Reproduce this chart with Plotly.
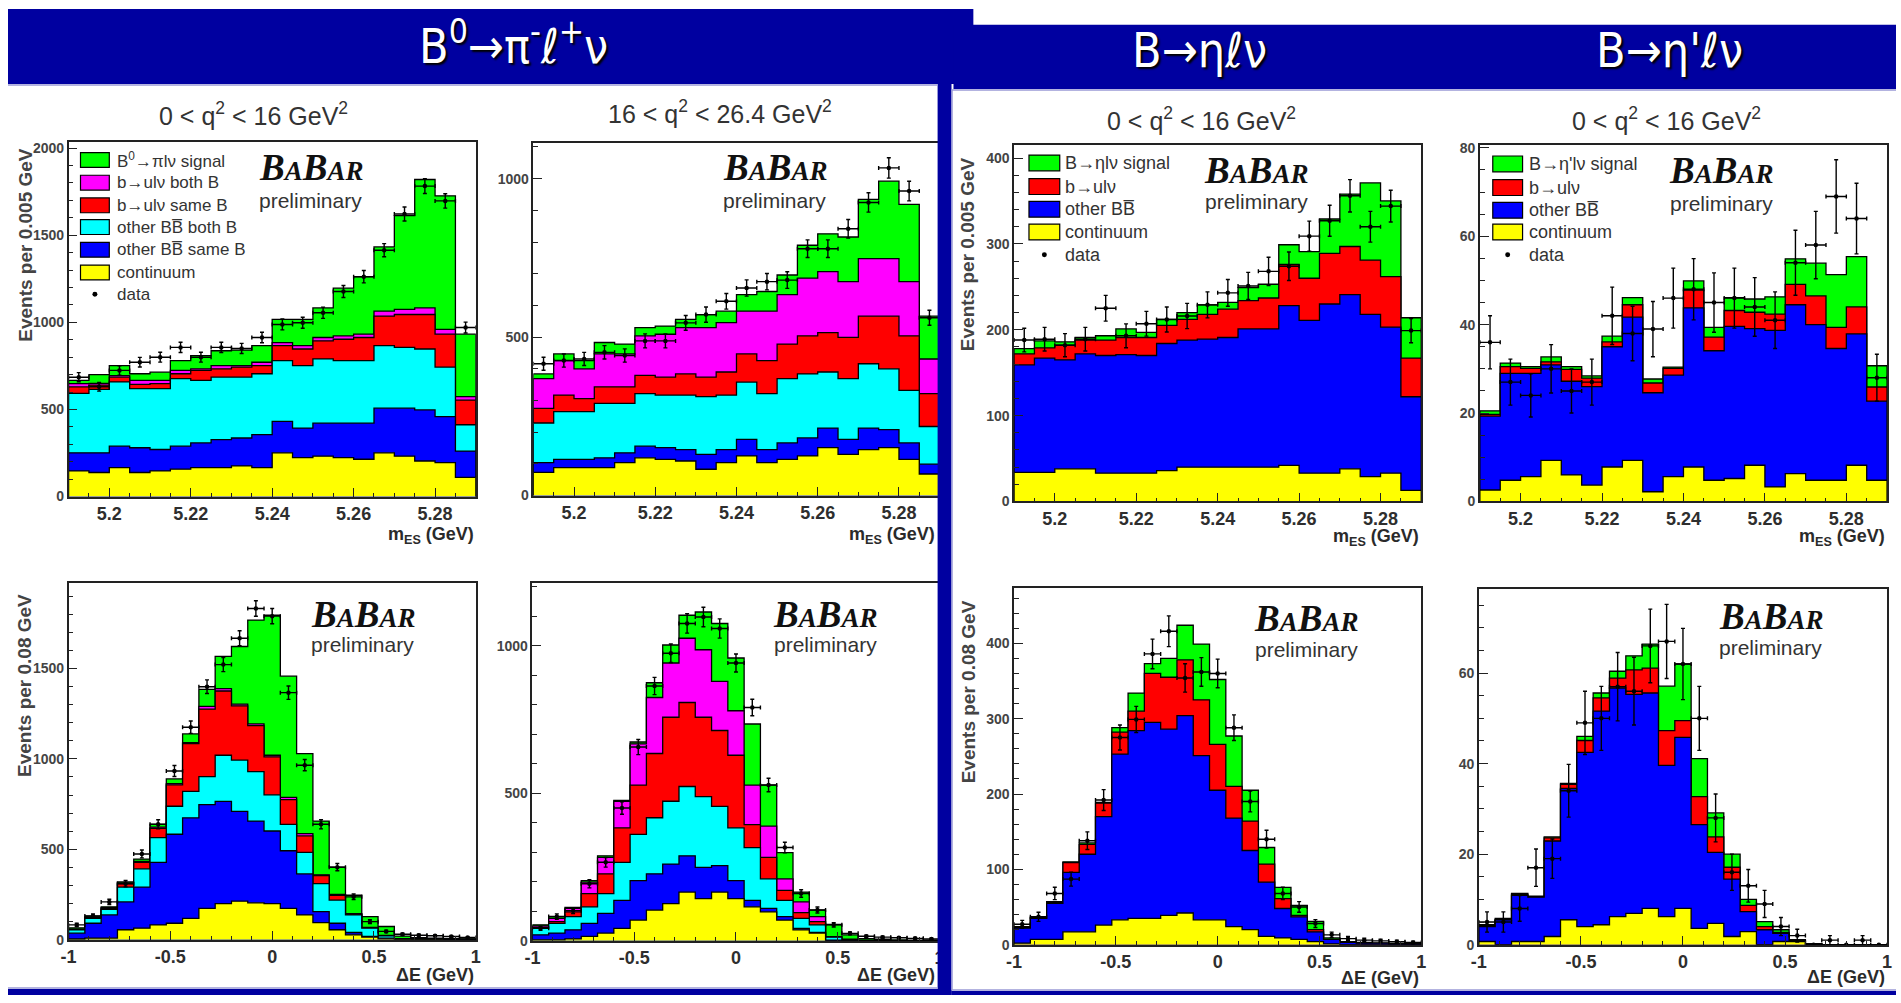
import numpy as np
import plotly.graph_objects as go

W, H = 1901, 1003

# ---------------- binning and tick labels ----------------
mes_range = (5.19, 5.29)
mes_nbins = 20
de_range = (-1.0, 1.0)
de_nbins = 25

mes_tickvals = [5.2, 5.22, 5.24, 5.26, 5.28]
mes_ticktext = ["5.2", "5.22", "5.24", "5.26", "5.28"]
de_tickvals = [-1, -0.5, 0, 0.5, 1]
de_ticktext = ["-1", "-0.5", "0", "0.5", "1"]

# ---------------- B0 -> pi l nu, 0 < q2 < 16, mES ----------------
pi_lo_mes_continuum = [147, 138, 166, 138, 147, 157, 166, 166, 176, 166, 251, 223, 232, 223, 214, 251, 232, 204, 195, 110]
pi_lo_mes_bb_same = [104, 113, 123, 142, 123, 132, 142, 161, 160, 189, 180, 170, 189, 198, 207, 256, 275, 293, 264, 151]
pi_lo_mes_bb_both = [341, 364, 369, 340, 350, 388, 359, 359, 350, 350, 349, 359, 369, 359, 359, 359, 349, 350, 284, 151]
pi_lo_mes_ulv_same = [37, 25, 27, 24, 28, 28, 57, 47, 57, 47, 86, 95, 104, 123, 133, 170, 189, 198, 189, 142]
pi_lo_mes_ulv_both = [19, 10, 9, 23, 19, 19, 9, 19, 9, 19, 18, 19, 19, 19, 19, 28, 29, 38, 28, 19]
pi_lo_mes_signal = [19, 50, 57, 38, 47, 56, 76, 85, 89, 95, 133, 151, 170, 274, 330, 369, 538, 737, 766, 359]
pi_lo_mes_data = [685, 630, 724, 771, 800, 856, 800, 856, 850, 913, 988, 998, 1055, 1177, 1262, 1414, 1622, 1782, 1697, 970]

# ---------------- B0 -> pi l nu, 16 < q2 < 26.4, mES ----------------
pi_hi_mes_continuum = [73, 88, 88, 88, 104, 119, 114, 109, 83, 104, 125, 104, 114, 125, 151, 130, 145, 151, 114, 68]
pi_hi_mes_bb_same = [31, 26, 26, 31, 31, 37, 37, 36, 47, 41, 52, 41, 52, 57, 62, 47, 68, 57, 52, 31]
pi_hi_mes_bb_both = [125, 151, 151, 172, 156, 166, 166, 172, 182, 172, 181, 177, 203, 202, 177, 192, 203, 192, 166, 119]
pi_hi_mes_ulv_same = [46, 52, 41, 52, 52, 57, 57, 67, 62, 73, 89, 104, 109, 120, 124, 130, 150, 166, 172, 104]
pi_hi_mes_ulv_both = [94, 109, 94, 104, 104, 125, 135, 146, 156, 156, 135, 156, 156, 182, 193, 176, 182, 182, 171, 109]
pi_hi_mes_signal = [15, 21, 26, 36, 31, 26, 26, 26, 41, 36, 52, 62, 62, 104, 119, 141, 187, 244, 244, 135]
pi_hi_mes_data = [416, 426, 431, 452, 442, 488, 488, 545, 571, 613, 655, 675, 680, 779, 779, 842, 925, 1034, 961, 561]

# ---------------- B -> eta l nu, mES ----------------
eta_mes_continuum = [34, 34, 38, 38, 33, 33, 33, 36, 40, 40, 40, 40, 40, 42, 33, 33, 38, 29, 33, 13]
eta_mes_other_bb = [125, 133, 127, 134, 137, 138, 137, 148, 148, 149, 151, 161, 161, 186, 178, 197, 203, 189, 170, 109]
eta_mes_ulv = [13, 12, 17, 16, 18, 20, 21, 21, 24, 29, 33, 33, 36, 48, 49, 59, 56, 63, 59, 45]
eta_mes_signal = [6, 8, 4, 3, 5, 10, 6, 7, 8, 11, 8, 15, 16, 23, 31, 40, 61, 90, 88, 47]
eta_mes_data = [188, 189, 182, 189, 225, 193, 207, 212, 216, 229, 243, 251, 268, 274, 309, 327, 356, 320, 344, 199]

# ---------------- B -> eta' l nu, mES ----------------
etap_mes_continuum = [2.6, 4.8, 5.6, 9.3, 6.0, 3.7, 7.8, 9.3, 2.2, 5.6, 7.8, 4.8, 5.2, 8.2, 3.3, 6.3, 4.8, 4.8, 8.2, 4.8]
etap_mes_other_bb = [16.7, 24.2, 23.4, 21.6, 21.2, 22.3, 27.2, 32.4, 22.4, 23.0, 36.0, 29.3, 34.4, 30.9, 35.4, 38.2, 35.2, 29.8, 29.7, 17.9]
etap_mes_ulv = [0.4, 1.5, 1.1, 0.7, 2.7, 1.9, 1.1, 2.8, 2.2, 1.5, 4.0, 3.1, 3.6, 3.7, 3.7, 4.6, 6.5, 4.8, 6.1, 3.2]
etap_mes_signal = [0.8, 0.8, 0.4, 1.1, 0.6, 0.5, 1.3, 1.6, 0.9, 0.3, 2.1, 2.2, 2.9, 3.0, 3.9, 5.8, 7.4, 11.9, 11.4, 4.8]
etap_mes_data = [36, 27, 24, 30, 25, 27, 42, 38, 39, 46, 48, 45, 46, 44, 41, 54, 58, 69, 64, 28]

# ---------------- B0 -> pi l nu, 0 < q2 < 16, Delta E ----------------
pi_lo_de_continuum = [4, 9, 9, 55, 64, 82, 91, 118, 173, 200, 213, 204, 200, 173, 137, 95, 55, 27, 15, 5, 2, 1, 1, 0, 0]
pi_lo_de_bb_same = [32, 82, 128, 154, 227, 346, 492, 556, 574, 565, 497, 452, 401, 319, 227, 60, 36, 13, 3, 4, 1, 1, 0, 1, 1]
pi_lo_de_bb_both = [19, 27, 31, 82, 101, 137, 155, 146, 155, 255, 283, 273, 200, 146, 119, 155, 128, 97, 46, 13, 3, 2, 2, 1, 1]
pi_lo_de_ulv_same = [2, 4, 5, 18, 36, 51, 118, 264, 373, 355, 300, 255, 210, 136, 91, 45, 27, 5, 3, 1, 0, 0, 0, 0, 0]
pi_lo_de_ulv_both = [1, 2, 4, 4, 5, 7, 7, 6, 15, 13, 9, 9, 9, 13, 13, 4, 4, 2, 1, 1, 0, 0, 0, 0, 0]
pi_lo_de_signal = [8, 7, 5, 6, 13, 15, 26, 48, 94, 178, 319, 574, 774, 670, 442, 297, 151, 102, 60, 49, 14, 8, 5, 4, 3]
pi_lo_de_data = [82, 131, 209, 310, 474, 638, 933, 1175, 1399, 1521, 1667, 1831, 1789, 1366, 965, 638, 401, 237, 100, 46, 30, 25, 22, 18, 12]

# ---------------- B0 -> pi l nu, 16 < q2 < 26.4, Delta E ----------------
pi_hi_de_continuum = [3, 3, 6, 15, 26, 42, 70, 104, 126, 165, 143, 165, 143, 115, 98, 70, 37, 26, 0, 0, 0, 0, 0, 0, 0]
pi_hi_de_bb_same = [17, 23, 31, 44, 67, 95, 134, 123, 134, 123, 106, 90, 61, 22, 12, 12, 5, 2, 2, 1, 0, 0, 0, 0, 0]
pi_hi_de_bb_both = [22, 33, 45, 56, 67, 129, 157, 190, 213, 235, 240, 201, 179, 179, 100, 55, 34, 26, 10, 3, 1, 1, 0, 0, 0]
pi_hi_de_ulv_same = [3, 6, 16, 45, 67, 117, 167, 218, 285, 285, 269, 257, 246, 78, 73, 34, 19, 11, 1, 0, 0, 0, 0, 0, 0]
pi_hi_de_ulv_both = [5, 11, 12, 39, 56, 90, 140, 190, 184, 218, 229, 167, 151, 134, 106, 39, 37, 17, 1, 1, 0, 0, 0, 0, 0]
pi_hi_de_signal = [4, 6, 3, 5, 5, 3, 6, 50, 61, 78, 128, 196, 179, 207, 139, 89, 33, 22, 41, 15, 6, 4, 3, 2, 2]
pi_hi_de_data = [42, 82, 102, 193, 266, 450, 657, 864, 975, 1076, 1098, 1059, 942, 791, 528, 316, 160, 104, 54, 25, 15, 12, 10, 8, 6]

# ---------------- B -> eta l nu, Delta E ----------------
eta_de_continuum = [2, 7, 7, 17, 17, 26, 33, 35, 35, 39, 42, 33, 33, 24, 20, 11, 9, 7, 4, 1, 0, 0, 0, 0, 0]
eta_de_other_bb = [20, 28, 48, 79, 103, 144, 220, 249, 260, 247, 262, 218, 172, 144, 105, 72, 39, 30, 13, 6, 3, 2, 2, 1, 1]
eta_de_ulv = [1, 1, 1, 13, 13, 18, 29, 26, 65, 69, 74, 74, 61, 42, 39, 24, 13, 2, 3, 0, 0, 0, 0, 0, 0]
eta_de_signal = [1, 1, 1, 1, 2, 1, 6, 24, 13, 25, 46, 74, 86, 67, 41, 22, 15, 13, 11, 2, 1, 1, 0, 1, 0]
eta_de_data = [27, 37, 68, 87, 138, 192, 275, 299, 386, 416, 354, 362, 360, 288, 190, 140, 68, 50, 28, 13, 8, 6, 5, 4, 3]

# ---------------- B -> eta' l nu, Delta E ----------------
etap_de_continuum = [0.7, 0, 0.7, 0.7, 1.8, 5.5, 4.0, 4.4, 6.2, 6.9, 8.0, 6.2, 8.0, 3.6, 4.7, 1.8, 2.9, 0, 0.7, 0.7, 0, 0, 0, 0, 0]
etap_de_other_bb = [3.3, 5.5, 10.2, 9.8, 21.1, 29.0, 38.5, 47.2, 50.5, 48.4, 47.6, 33.4, 37.8, 22.9, 15.7, 12.7, 4.4, 3.3, 1.8, 0.1, 0.1, 0, 0, 0, 0]
etap_de_ulv = [0.2, 0.1, 0.2, 0, 0.7, 0.9, 2.6, 2.9, 2.2, 5.4, 5.5, 7.7, 3.7, 6.2, 3.4, 2.6, 1.4, 0.7, 0.2, 0.1, 0, 0, 0, 0, 0]
etap_de_signal = [0.2, 0.2, 0.2, 0.2, 0.2, 0.2, 0.9, 1.1, 1.5, 3.1, 5.3, 9.8, 12.5, 8.4, 5.3, 2.9, 1.3, 1.1, 0.6, 0.2, 0.1, 0, 0, 0, 0]
etap_de_data = [5, 5, 8, 17, 19, 34, 49, 50, 57, 56, 66, 67, 62, 50, 28, 16, 13, 9, 4, 2, 0, 1, 0, 1, 0]

# ---------------- legend labels ----------------
pi_legend_labels = ["B<sup>0</sup>→πlν signal", "b→ulν both B", "b→ulν same B",
                    "other BB\u0305 both B", "other BB\u0305 same B", "continuum", "data"]
eta_legend_labels = ["B→ηlν signal", "b→ulν", "other BB\u0305", "continuum", "data"]
etap_legend_labels = ["B→η'lν signal", "b→ulν", "other BB\u0305", "continuum", "data"]

header_labels = ["B<sup>0</sup>→π<sup>-</sup>ℓ<sup>+</sup>ν", "B→ηℓν", "B→η'ℓν"]
q2_labels = ["0 &lt; q<sup>2</sup> &lt; 16 GeV<sup>2</sup>", "16 &lt; q<sup>2</sup> &lt; 26.4 GeV<sup>2</sup>",
             "0 &lt; q<sup>2</sup> &lt; 16 GeV<sup>2</sup>", "0 &lt; q<sup>2</sup> &lt; 16 GeV<sup>2</sup>"]

# ---------------- styling ----------------
GREEN, MAGENTA, RED = "#00ff00", "#ff00ff", "#ff0000"
CYAN, BLUE, YELLOW = "#00ffff", "#0000ff", "#ffff00"
NAVY = "#0000a0"
EDGE = "#9a9ad6"
INK = "#2e2e2e"
SANS = "Liberation Sans, Arial, Helvetica, sans-serif"
NARROW = "Liberation Sans Narrow, DejaVu Sans Condensed, Liberation Sans, Arial, sans-serif"
SERIF = "Liberation Serif, Times New Roman, serif"


def px(x):
    return x / W


def py(y):
    return 1 - y / H


def label(x, y, text, font, xanchor="center", yanchor="middle", **kw):
    """Paper-anchored text placed by pixel position."""
    return dict(x=px(x), y=py(y), xref="paper", yref="paper", showarrow=False,
                xanchor=xanchor, yanchor=yanchor, text=text, font=font, **kw)


panels = [
    dict(box=(61, 139, 471, 498), kind="mes", ymax=2034, yticks=[0, 500, 1000, 1500, 2000], yminor=100,
         comps=[(pi_lo_mes_continuum, YELLOW), (pi_lo_mes_bb_same, BLUE), (pi_lo_mes_bb_both, CYAN),
                (pi_lo_mes_ulv_same, RED), (pi_lo_mes_ulv_both, MAGENTA), (pi_lo_mes_signal, GREEN)],
         data=pi_lo_mes_data, logo=(305, 165, 197), xtitle=(471, 537)),
    dict(box=(529, 140, 938, 497), kind="mes", ymax=1112, yticks=[0, 500, 1000], yminor=100,
         comps=[(pi_hi_mes_continuum, YELLOW), (pi_hi_mes_bb_same, BLUE), (pi_hi_mes_bb_both, CYAN),
                (pi_hi_mes_ulv_same, RED), (pi_hi_mes_ulv_both, MAGENTA), (pi_hi_mes_signal, GREEN)],
         data=pi_hi_mes_data, logo=(772, 165, 197), xtitle=(935, 537)),
    dict(box=(1013, 142, 1423, 503), kind="mes", ymax=415, yticks=[0, 100, 200, 300, 400], yminor=20,
         comps=[(eta_mes_continuum, YELLOW), (eta_mes_other_bb, BLUE), (eta_mes_ulv, RED), (eta_mes_signal, GREEN)],
         data=eta_mes_data, logo=(1257, 168, 198), xtitle=(1423, 539)),
    dict(box=(1482, 142, 1892, 503), kind="mes", ymax=80.6, yticks=[0, 20, 40, 60, 80], yminor=5,
         comps=[(etap_mes_continuum, YELLOW), (etap_mes_other_bb, BLUE), (etap_mes_ulv, RED), (etap_mes_signal, GREEN)],
         data=etap_mes_data, logo=(1725, 168, 200), xtitle=(1892, 539)),
    dict(box=(61, 586, 471, 947), kind="de", ymax=1970, yticks=[0, 500, 1000, 1500], yminor=100,
         comps=[(pi_lo_de_continuum, YELLOW), (pi_lo_de_bb_same, BLUE), (pi_lo_de_bb_both, CYAN),
                (pi_lo_de_ulv_same, RED), (pi_lo_de_ulv_both, MAGENTA), (pi_lo_de_signal, GREEN)],
         data=pi_lo_de_data, logo=(357, 617, 647), xtitle=(471, 983)),
    dict(box=(528, 586, 938, 948), kind="de", ymax=1212, yticks=[0, 500, 1000], yminor=100,
         comps=[(pi_hi_de_continuum, YELLOW), (pi_hi_de_bb_same, BLUE), (pi_hi_de_bb_both, CYAN),
                (pi_hi_de_ulv_same, RED), (pi_hi_de_ulv_both, MAGENTA), (pi_hi_de_signal, GREEN)],
         data=pi_hi_de_data, logo=(823, 617, 647), xtitle=(935, 983)),
    dict(box=(1013, 591, 1423, 952), kind="de", ymax=473, yticks=[0, 100, 200, 300, 400], yminor=20,
         comps=[(eta_de_continuum, YELLOW), (eta_de_other_bb, BLUE), (eta_de_ulv, RED), (eta_de_signal, GREEN)],
         data=eta_de_data, logo=(1307, 622, 652), xtitle=(1423, 986)),
    dict(box=(1481, 592, 1892, 952), kind="de", ymax=78.5, yticks=[0, 20, 40, 60], yminor=5,
         comps=[(etap_de_continuum, YELLOW), (etap_de_other_bb, BLUE), (etap_de_ulv, RED), (etap_de_signal, GREEN)],
         data=etap_de_data, logo=(1775, 620, 650), xtitle=(1892, 985)),
]

fig = go.Figure()
layout_axes = {}
annotations = []
shapes = []


def step_xy(edges, vals):
    """Closed step outline of a histogram (ROOT style) for hv-shaped fills."""
    x = np.concatenate([[edges[0]], edges, [edges[-1]]])
    y = np.concatenate([[0.0], vals, [vals[-1], 0.0]])
    return x, y


for i, p in enumerate(panels, start=1):
    xname = "x" if i == 1 else f"x{i}"
    yname = "y" if i == 1 else f"y{i}"
    x0, y0, x1, y1 = p["box"]
    if p["kind"] == "mes":
        lo, hi = mes_range
        nb = mes_nbins
        tv, tt, xminor = mes_tickvals, mes_ticktext, 0.005
        xt = "m<sub>ES</sub> (GeV)"
    else:
        lo, hi = de_range
        nb = de_nbins
        tv, tt, xminor = de_tickvals, de_ticktext, 0.1
        xt = "ΔE (GeV)"
    edges = np.linspace(lo, hi, nb + 1)
    centers = 0.5 * (edges[:-1] + edges[1:])
    width = edges[1] - edges[0]

    comp_vals = np.array([c[0] for c in p["comps"]], dtype=float)
    cum = np.cumsum(comp_vals, axis=0)
    # draw the full stack first, then each lower cumulative layer on top of it
    for k in range(len(p["comps"]) - 1, -1, -1):
        sx, sy = step_xy(edges, cum[k])
        fig.add_trace(go.Scatter(
            x=sx, y=sy, mode="lines", line=dict(shape="hv", color="black", width=1.3),
            fill="tozeroy", fillcolor=p["comps"][k][1], hoverinfo="skip",
            xaxis=xname, yaxis=yname, showlegend=False))

    data = np.array(p["data"], dtype=float)
    fig.add_trace(go.Scatter(
        x=centers, y=data, mode="markers",
        marker=dict(color="black", size=4.5),
        error_y=dict(type="data", array=np.sqrt(data), color="black", thickness=1.4, width=2),
        error_x=dict(type="constant", value=width / 2, color="black", thickness=1.4, width=2),
        xaxis=xname, yaxis=yname, showlegend=False))

    axis_common = dict(showline=True, mirror=True, linecolor="#222", linewidth=1.5,
                       showgrid=False, zeroline=False, ticks="inside", tickcolor="#222",
                       tickwidth=1.2, fixedrange=True)
    layout_axes["xaxis" if i == 1 else f"xaxis{i}"] = dict(
        axis_common, domain=[px(x0), px(x1)], anchor=yname, range=[lo, hi],
        tickmode="array", tickvals=tv, ticktext=tt, ticklen=9,
        tickfont=dict(family=SANS, size=18, color=INK, weight="bold"),
        minor=dict(ticks="inside", ticklen=4, tickcolor="#222", tickmode="linear", tick0=lo, dtick=xminor))
    layout_axes["yaxis" if i == 1 else f"yaxis{i}"] = dict(
        axis_common, domain=[py(y1), py(y0)], anchor=xname, range=[0, p["ymax"]],
        tickmode="array", tickvals=p["yticks"], ticktext=[str(v) for v in p["yticks"]], ticklen=9,
        tickfont=dict(family=SANS, size=14, color="#444", weight="bold"),
        minor=dict(ticks="inside", ticklen=5, tickcolor="#222", tickmode="linear", tick0=0, dtick=p["yminor"]))

    # experiment logo
    lx, ly1, ly2 = p["logo"]
    annotations.append(label(
        lx, ly1,
        "<b><i>B<span style='font-size:27px'>A</span>B<span style='font-size:27px'>AR</span></i></b>",
        dict(family=SERIF, size=37, color="#111")))
    annotations.append(label(lx, ly2 + 1, "preliminary", dict(family=SANS, size=21, color="#333")))

    # x-axis title, right aligned under the frame
    tx, ty = p["xtitle"]
    annotations.append(label(tx, ty, xt, dict(family=SANS, size=18, color="#2a2a2a", weight="bold"),
                             xanchor="right"))

# y-axis titles
for (cx, cy, txt) in [(18, 243, "Events per 0.005 GeV"), (966, 252, "Events per 0.005 GeV"),
                      (16, 689, "Events per 0.08 GeV"), (968, 696, "Events per 0.08 GeV")]:
    annotations.append(label(cx, cy, txt, dict(family=SANS, size=19, color="#444", weight="bold"),
                             textangle=-90))

# q^2 range titles over the upper row
for (cx, cy), txt in zip([(247, 110), (717, 108), (1202, 115), (1670, 115)], q2_labels):
    annotations.append(label(cx, cy, txt, dict(family=SANS, size=25, color="#333")))


# ---------------- legends ----------------
def add_legend(labels, colors, box_x, rows_y, data_y, text_x, fsize, box_h):
    for lab, col, ry in zip(labels[:-1], colors, rows_y):
        shapes.append(dict(type="rect", xref="paper", yref="paper", layer="above",
                           x0=px(box_x[0]), x1=px(box_x[1]), y0=py(ry + box_h / 2), y1=py(ry - box_h / 2),
                           fillcolor=col, line=dict(color="black", width=1.2)))
        annotations.append(label(text_x, ry, lab, dict(family=SANS, size=fsize, color="#333"), xanchor="left"))
    cxm = 0.5 * (box_x[0] + box_x[1])
    shapes.append(dict(type="circle", xref="paper", yref="paper", layer="above",
                       x0=px(cxm - 2.5), x1=px(cxm + 2.5), y0=py(data_y + 2.5), y1=py(data_y - 2.5),
                       fillcolor="black", line=dict(color="black", width=0)))
    annotations.append(label(text_x, data_y, labels[-1], dict(family=SANS, size=fsize, color="#333"),
                             xanchor="left"))


add_legend(pi_legend_labels, [GREEN, MAGENTA, RED, CYAN, BLUE, YELLOW],
           (73, 102), [157, 180, 203, 225, 248, 271], 293, 108, 17, 15)
add_legend(eta_legend_labels, [GREEN, RED, BLUE, YELLOW],
           (1028, 1059), [160, 184, 207, 230], 253, 1062, 18, 16)
add_legend(etap_legend_labels, [GREEN, RED, BLUE, YELLOW],
           (1495, 1525), [161, 185, 208, 230], 253, 1529, 18, 16)

# ---------------- slide frame: navy banners and borders ----------------
for (a, b, c, d) in [(0, 4, 972, 80), (952, 20, 1901, 85), (936, 78, 950, 1003),
                     (0, 997, 950, 1003), (950, 999, 1901, 1003)]:
    shapes.append(dict(type="rect", xref="paper", yref="paper", layer="above",
                       x0=px(a), x1=px(c), y0=py(d), y1=py(b),
                       fillcolor=NAVY, line=dict(width=0)))
# pale bevel lines along the banner edges
for (a, b, c, d) in [(0, 81, 936, 81), (950, 86, 1901, 86), (950.5, 86, 950.5, 998),
                     (0, 996, 936, 996), (950, 998, 1901, 998)]:
    shapes.append(dict(type="line", xref="paper", yref="paper", layer="above",
                       x0=px(a), x1=px(c), y0=py(b), y1=py(d), line=dict(color=EDGE, width=1.5)))

for (cx, cy), txt in zip([(509, 38), (1200, 46), (1673, 46)], header_labels):
    annotations.append(label(cx, cy, txt, dict(family=NARROW, size=48, color="white",
                                               shadow="2px 2px 2px #000000")))

fig.update_layout(
    width=W, height=H, margin=dict(l=0, r=0, t=0, b=0),
    paper_bgcolor="white", plot_bgcolor="white", showlegend=False,
    annotations=annotations, shapes=shapes, **layout_axes)

fig.write_html("out.html")
